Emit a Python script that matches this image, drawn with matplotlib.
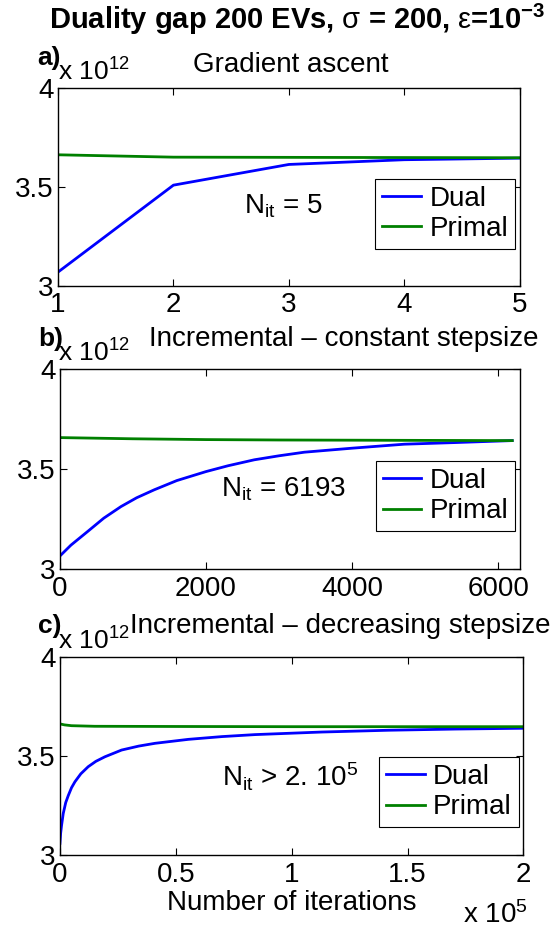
import matplotlib
matplotlib.use('Agg')
import matplotlib.pyplot as plt

plt.rcParams['font.family'] = ['Liberation Sans', 'DejaVu Sans']
plt.rcParams['mathtext.fontset'] = 'custom'
plt.rcParams['mathtext.rm'] = 'Liberation Sans'
plt.rcParams['mathtext.it'] = 'Liberation Sans:italic'
plt.rcParams['mathtext.bf'] = 'Liberation Sans:bold'

# values in units of 10^12
# a) gradient ascent
iters_a = [1, 2, 3, 4, 5]
dual_a = [3.068, 3.509, 3.614, 3.638, 3.646]
primal_a = [3.663, 3.651, 3.650, 3.649, 3.648]

# b) incremental, constant stepsize
iters_b = [0, 150, 378, 600, 836, 1050, 1292, 1600, 2000, 2300, 2662, 3000, 3347,
           4000, 4716, 5400, 6193]
dual_b = [3.066, 3.120, 3.188, 3.255, 3.313, 3.357, 3.397, 3.443, 3.488, 3.517,
          3.547, 3.567, 3.585, 3.605, 3.625, 3.633, 3.643]
iters_bp = [0, 1000, 2000, 3000, 4000, 5000, 6193]
primal_b = [3.658, 3.652, 3.648, 3.646, 3.645, 3.644, 3.643]

# c) incremental, decreasing stepsize
iters_c = [0, 300, 700, 1425, 2500, 3585, 5000, 6477, 9000, 12200, 15500, 19400,
           26600, 34000, 41000, 55400, 70000, 84200, 113000, 141800, 170600, 200000]
dual_c = [3.059, 3.110, 3.150, 3.210, 3.265, 3.300, 3.340, 3.370, 3.410, 3.446,
          3.473, 3.496, 3.530, 3.550, 3.564, 3.584, 3.598, 3.608, 3.621, 3.630,
          3.636, 3.640]
iters_cp = [0, 2000, 5000, 15000, 50000, 100000, 150000, 200000]
primal_c = [3.662, 3.657, 3.653, 3.650, 3.649, 3.648, 3.648, 3.648]

fs = 20
fig = plt.figure(figsize=(5.55, 9.3), dpi=100)

panels = [
    ([0.1045, 0.693, 0.832, 0.212], iters_a, dual_a, iters_a, primal_a,
     (1, 5), [1, 2, 3, 4, 5], ['1', '2', '3', '4', '5'],
     r'N$_{\mathrm{it}}$ = 5', (0.487, 0.40), 0.187,
     'a)', 'Gradient ascent', 0.523, 0.025),
    ([0.1080, 0.388, 0.829, 0.215], iters_b, dual_b, iters_bp, primal_b,
     (0, 6300), [0, 2000, 4000, 6000], ['0', '2000', '4000', '6000'],
     r'N$_{\mathrm{it}}$ = 6193', (0.485, 0.40), 0.19,
     'b)', u'Incremental \u2013 constant stepsize', 0.620, 0.032),
    ([0.1080, 0.0806, 0.835, 0.213], iters_c, dual_c, iters_cp, primal_c,
     (0, 200000), [0, 50000, 100000, 150000, 200000], ['0', '0.5', '1', '1.5', '2'],
     r'N$_{\mathrm{it}}$ > 2. 10$^5$', (0.496, 0.395), 0.14,
     'c)', u'Incremental \u2013 decreasing stepsize', 0.6135, 0.033),
]

for (rect, xd, yd, xp, yp, xlim, xt, xtl, ntxt, npos, legy,
     tag, sub, subx, suby) in panels:
    ax = fig.add_axes(rect)
    ax.plot(xd, yd, color=(0, 0, 1), lw=2.0, label='Dual')
    ax.plot(xp, yp, color=(0, 0.5, 0), lw=2.0, label='Primal')
    ax.set_xlim(*xlim)
    ax.set_ylim(3, 4)
    ax.set_xticks(xt)
    ax.set_xticklabels(xtl)
    ax.set_yticks([3, 3.5, 4])
    ax.set_yticklabels(['3', '3.5', '4'])
    ax.tick_params(direction='in', top=True, right=True, labelsize=fs,
                   length=5, width=0.8)
    ax.tick_params(axis='x', pad=5)
    ax.tick_params(axis='y', pad=3)
    for s in ax.spines.values():
        s.set_linewidth(1.0)
    ax.text(npos[0], npos[1], ntxt, transform=ax.transAxes, fontsize=fs,
            ha='center', va='center')
    leg = ax.legend(loc='lower right', bbox_to_anchor=(0.99, legy),
                    fontsize=fs, fancybox=False, framealpha=1,
                    edgecolor='black', borderaxespad=0, handlelength=1.4,
                    handletextpad=0.3, borderpad=0.25, labelspacing=0.15)
    leg.get_frame().set_linewidth(0.8)
    # panel tag, scale factor and subtitle
    top = rect[1] + rect[3]
    fig.text(0.068, top + 0.033, tag, fontsize=fs - 1, fontweight='bold',
             ha='left', va='center')
    fig.text(0.104, top + 0.003, r'x 10$^{12}$', fontsize=fs - 1,
             ha='left', va='bottom')
    fig.text(subx, top + suby, sub, fontsize=fs, ha='center', va='center')

fig.text(0.535, 0.979,
         r'Duality gap 200 EVs, $\mathrm{\sigma}$ = 200, $\mathrm{\epsilon}$=10$^{\mathbf{-3}}$',
         fontsize=fs + 1, fontweight='bold', ha='center', va='center')
fig.text(0.526, 0.029, 'Number of iterations', fontsize=fs, ha='center',
         va='center')
fig.text(0.835, 0.001, r'x 10$^5$', fontsize=fs, ha='left', va='bottom')

fig.savefig('out.png', dpi=100)
